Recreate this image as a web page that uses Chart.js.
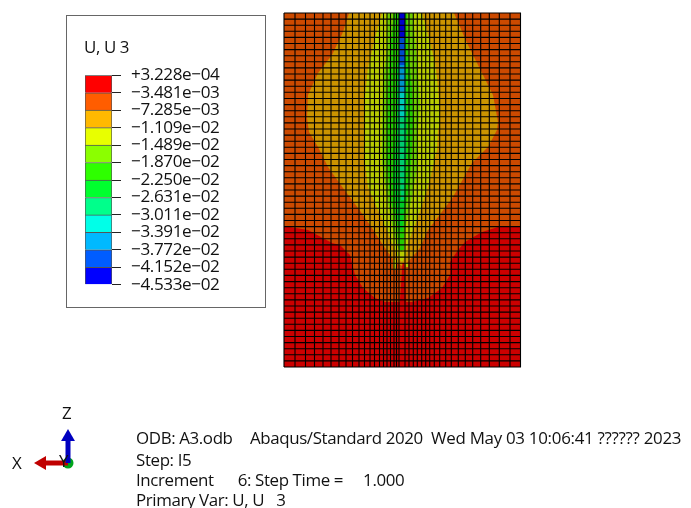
<!DOCTYPE html>
<html>
<head>
<meta charset="utf-8">
<title>U, U 3</title>
<script src="https://cdn.jsdelivr.net/npm/chart.js@4"></script>
<style>
  html, body { margin: 0; padding: 0; background: #fff; }
  body { position: relative; width: 691px; height: 508px; overflow: hidden; font-family: "Open Sans", sans-serif; color: #111; }
  canvas { position: absolute; }
  #panel { position: absolute; left: 66px; top: 15px; width: 198px; height: 291px; border: 1.5px solid #666; }
  .txt { position: absolute; white-space: pre; font-size: 16.9px; line-height: 20px; letter-spacing: -0.38px; }
</style>
</head>
<body>
<div id="panel"></div>
<canvas id="meshChart" width="691" height="508" style="left:0;top:0"></canvas>
<canvas id="barChart" width="190" height="250" style="left:70px;top:55px"></canvas>
<canvas id="triadChart" width="130" height="90" style="left:0;top:395px"></canvas>
<div class="txt" style="left:84px;top:37px">U, U 3</div>
<div class="txt" style="left:62px;top:403px">Z</div>
<div class="txt" style="left:12px;top:453px">X</div>
<div class="txt" style="left:59px;top:451px">Y</div>
<div class="txt" style="left:136px;top:428px">ODB: A3.odb</div>
<div class="txt" style="left:250px;top:428px">Abaqus/Standard 2020</div>
<div class="txt" style="left:431px;top:428px;letter-spacing:-0.28px">Wed May 03 10:06:41 ?????? 2023</div>
<div class="txt" style="left:136px;top:450px">Step: I5</div>
<div class="txt" style="left:136px;top:470px">Increment      6: Step Time =     1.000</div>
<div class="txt" style="left:136px;top:490px">Primary Var: U, U   3</div>

<script>
// legend, top to bottom
const legendLabels = ["+3.228e\u221204", "\u22123.481e\u221203", "\u22127.285e\u221203", "\u22121.109e\u221202", "\u22121.489e\u221202", "\u22121.870e\u221202", "\u22122.250e\u221202", "\u22122.631e\u221202", "\u22123.011e\u221202", "\u22123.391e\u221202", "\u22123.772e\u221202", "\u22124.152e\u221202", "\u22124.533e\u221202"];
const legendColors = ["#ff0000", "#ff5d00", "#ffb900", "#e8ff00", "#8bff00", "#2eff00", "#00ff2e", "#00ff8b", "#00ffe8", "#00b9ff", "#005dff", "#0000ff"];

// mesh lines (x from the slit, y from the bottom edge)
const meshX = [-118.5, -107.5, -97, -88, -79.5, -71.5, -63.5, -56.5, -50, -43.5, -38, -32.5, -28, -23, -19, -15.5, -12, -8.5, -6, -3.5, 2.5, 6.5, 10.8, 14.8, 19.2, 23.2, 27.2, 31.8, 37.2, 43.2, 48.8, 55.8, 62.8, 70.2, 78.2, 86.8, 96.8, 107.5, 118];
const meshY = [0, 6.1, 12.2, 18.3, 24.4, 30.5, 36.6, 42.7, 48.8, 54.9, 61, 67.1, 73.2, 79.3, 85.4, 91.6, 97.7, 103.8, 109.9, 116, 122.1, 128.2, 134.3, 140.4, 146.5, 152.6, 158.7, 164.8, 170.9, 177, 183.1, 189.2, 195.3, 201.4, 207.5, 213.6, 219.7, 225.8, 231.9, 238, 244.1, 250.2, 256.3, 262.4, 268.5, 274.7, 280.8, 286.9, 293, 299.1, 305.2, 311.3, 317.4, 323.5, 329.6, 335.7, 341.8, 347.9, 354];

// contour bands, painted one over the other
const bandOrange = [[-118.5,0],[-118.5,354],[118.5,354],[118.5,0]];
const bandAmber = [[-53.5,354],[-59.5,335],[-70.5,312],[-84.5,294],[-94.5,272],[-95.5,249],[-93.5,235],[-84.5,220],[-74.5,200],[-59.5,179],[-44.5,159],[-32.5,142],[-19.5,122],[-7.5,105],[-0.5,101],[5.5,105],[17.5,119],[25.5,137],[35.5,150],[50.5,170],[69.5,204],[85.5,220],[94.5,237],[95.5,245],[90.5,272],[79.5,294],[64.5,324],[51.5,354]];
const bandYellow = [[-20.5,354],[-27.5,329],[-34.5,299],[-38.5,262],[-38.5,232],[-37.5,204],[-34.5,180],[-24.5,157],[-15.5,137],[-10.5,124],[-4.5,109],[-0.5,105],[3.5,112],[5.5,124],[15.5,150],[25.5,180],[34.5,217],[35.5,237],[37.5,245],[35.5,279],[32.5,305],[25.5,332],[19.5,354]];
const bandLime = [[-15.5,354],[-15.5,319],[-19.5,285],[-20.5,232],[-20.5,204],[-15.5,170],[-9.5,137],[-4.5,119],[-0.5,115],[2.5,137],[9.5,170],[15.5,204],[15.5,237],[17.5,262],[15.5,295],[12.5,329],[10.5,354]];
const bandGreen = [[-8.5,354],[-12.5,319],[-14.5,279],[-15.5,232],[-15.5,204],[-12.5,170],[-5.5,140],[-3.5,117],[1.5,117],[2.5,154],[7.5,187],[9.5,220],[10.5,245],[9.5,279],[5.5,319],[4.5,354]];
const bandSpring = [[-6,299],[-6.5,237],[-9.5,187],[-4.5,144],[-0.5,135],[2.5,167],[4.5,217],[4.5,262],[3.5,307],[-0.5,317]];
const bandMint = [[-4,287],[-4.5,242],[-3.5,217],[-1.5,167],[1.5,167],[3.5,217],[3.5,257],[3,292],[-0.5,305]];
const bandCyan = [[-3.5,275],[2.5,275],[2.5,249],[-3.5,249]];
const bandSky = [[-3.5,302],[2.5,302],[2.5,275],[-3.5,275]];
const bandAzure = [[-3.5,329],[2.5,329],[2.5,302],[-3.5,302]];
const bandBlue = [[-3.5,354],[2.5,354],[2.5,329],[-3.5,329]];
const bandRed = [[-118.5,0],[-118.5,141],[-94.5,137],[-70.5,124],[-62.5,122],[-52.5,112],[-47.5,92],[-39.5,79],[-27.5,69],[-17.5,65],[-7.5,65],[9.5,65],[25.5,69],[39.5,79],[47.5,92],[47.5,105],[55.5,117],[62.5,125],[79.5,135],[95.5,140],[118.5,141],[118.5,0]];
const bandSlit = [[0,104],[1.5,104],[4,60],[-3,60]];
const streakLeft = [[-9.5,107],[-6,107],[-7,97],[-9,97]];
const streakRight = [[3,104],[6,104],[5.5,100],[3.5,100]];

const contourBands = [
    [bandOrange, "#cc4a00"], [bandAmber, "#cc9400"], [bandYellow, "#b9cc00"], [bandLime, "#6fcc00"],
    [bandGreen, "#25cc00"], [bandSpring, "#00cc25"], [bandMint, "#00cc6f"], [bandCyan, "#00ccb9"],
    [bandSky, "#0094cc"], [bandAzure, "#004acc"], [bandBlue, "#0000cc"], [bandRed, "#cc0000"], [bandSlit, "#cc0000"],
    [streakLeft, "#b9cc00"], [streakRight, "#b9cc00"]
];

// triad arrows
const triadX = [[0, 0], [-23, 0]];
const triadZ = [[0, 0], [0, 23]];
const triadXTip = [[-26, 0]];
const triadZTip = [[0, 26]];
const triadOrigin = [[0, 0]];

const toPoints = (list) => list.map(p => ({ x: p[0], y: p[1] }));

// mesh is one dataset per direction, nulls break the line
const meshVertical = meshX.flatMap(x => [{ x: x, y: 0 }, { x: x, y: 354 }, { x: null, y: null }]);
const meshHorizontal = meshY.flatMap(y => [{ x: -118.5, y: y }, { x: 118.5, y: y }, { x: null, y: null }]);

const meshDatasets = contourBands.map((band, i) => ({
    data: toPoints(band[0]),
    backgroundColor: band[1],
    borderWidth: 0,
    pointRadius: 0,
    showLine: true,
    fill: "shape",
    order: 100 - i
}));
[meshVertical, meshHorizontal].forEach(lines => {
    meshDatasets.push({
        data: lines,
        borderColor: "#000",
        borderWidth: 1.1,
        pointRadius: 0,
        showLine: true,
        fill: false,
        spanGaps: false,
        clip: false,
        order: 0
    });
});

new Chart(document.getElementById("meshChart"), {
    type: "scatter",
    data: { datasets: meshDatasets },
    options: {
        responsive: false,
        animation: false,
        layout: { autoPadding: false, padding: { left: 284, right: 170, top: 13, bottom: 141 } },
        plugins: { legend: { display: false }, tooltip: { enabled: false } },
        scales: {
            x: { type: "linear", display: false, min: -118.5, max: 118.5 },
            y: { type: "linear", display: false, min: 0, max: 354 }
        }
    }
});

// colour bar, bottom segment first so the stack reads top to bottom
const barDatasets = legendColors.slice().reverse().map(c => ({
    data: [1],
    backgroundColor: c,
    borderColor: "#555",
    borderWidth: 1,
    barPercentage: 1,
    categoryPercentage: 1
}));
const reversedLabels = legendLabels.slice().reverse();

new Chart(document.getElementById("barChart"), {
    type: "bar",
    data: { labels: ["U, U 3"], datasets: barDatasets },
    options: {
        responsive: false,
        animation: false,
        layout: { autoPadding: false, padding: { left: 15, top: 10, bottom: 11 } },
        plugins: { legend: { display: false }, tooltip: { enabled: false } },
        scales: {
            x: { stacked: true, display: false },
            y: {
                stacked: true,
                position: "right",
                min: 0,
                max: 12,
                border: { display: false },
                afterFit: (axis) => { axis.width = 148; },
                grid: { drawOnChartArea: false, drawTicks: true, tickLength: 9, color: "#222" },
                ticks: {
                    stepSize: 1,
                    autoSkip: false,
                    padding: 10,
                    color: "#111",
                    font: { family: "Open Sans", size: 17.1 },
                    callback: (v) => reversedLabels[v]
                }
            }
        }
    },
    plugins: [{
        id: "tightText",
        beforeDraw: (chart) => { chart.ctx.letterSpacing = "-0.38px"; }
    }]
});

new Chart(document.getElementById("triadChart"), {
    type: "scatter",
    data: {
        datasets: [
            { data: toPoints(triadOrigin), pointRadius: 5.5, pointBackgroundColor: "#00a51c", pointBorderWidth: 0, order: 5 },
            { data: toPoints(triadX), showLine: true, borderColor: "#c00000", borderWidth: 5, pointRadius: 0, order: 4 },
            { data: toPoints(triadXTip), pointStyle: "triangle", pointRotation: -90, pointRadius: 8, pointBackgroundColor: "#c00000", pointBorderWidth: 0, order: 3 },
            { data: toPoints(triadZ), showLine: true, borderColor: "#0000c0", borderWidth: 5, pointRadius: 0, order: 2 },
            { data: toPoints(triadZTip), pointStyle: "triangle", pointRadius: 8, pointBackgroundColor: "#0000c0", pointBorderWidth: 0, order: 1 }
        ]
    },
    options: {
        responsive: false,
        animation: false,
        layout: { autoPadding: false, padding: 0 },
        plugins: { legend: { display: false }, tooltip: { enabled: false } },
        scales: {
            x: { type: "linear", display: false, min: -68, max: 62 },
            y: { type: "linear", display: false, min: -22, max: 68 }
        }
    }
});
</script>
</body>
</html>
